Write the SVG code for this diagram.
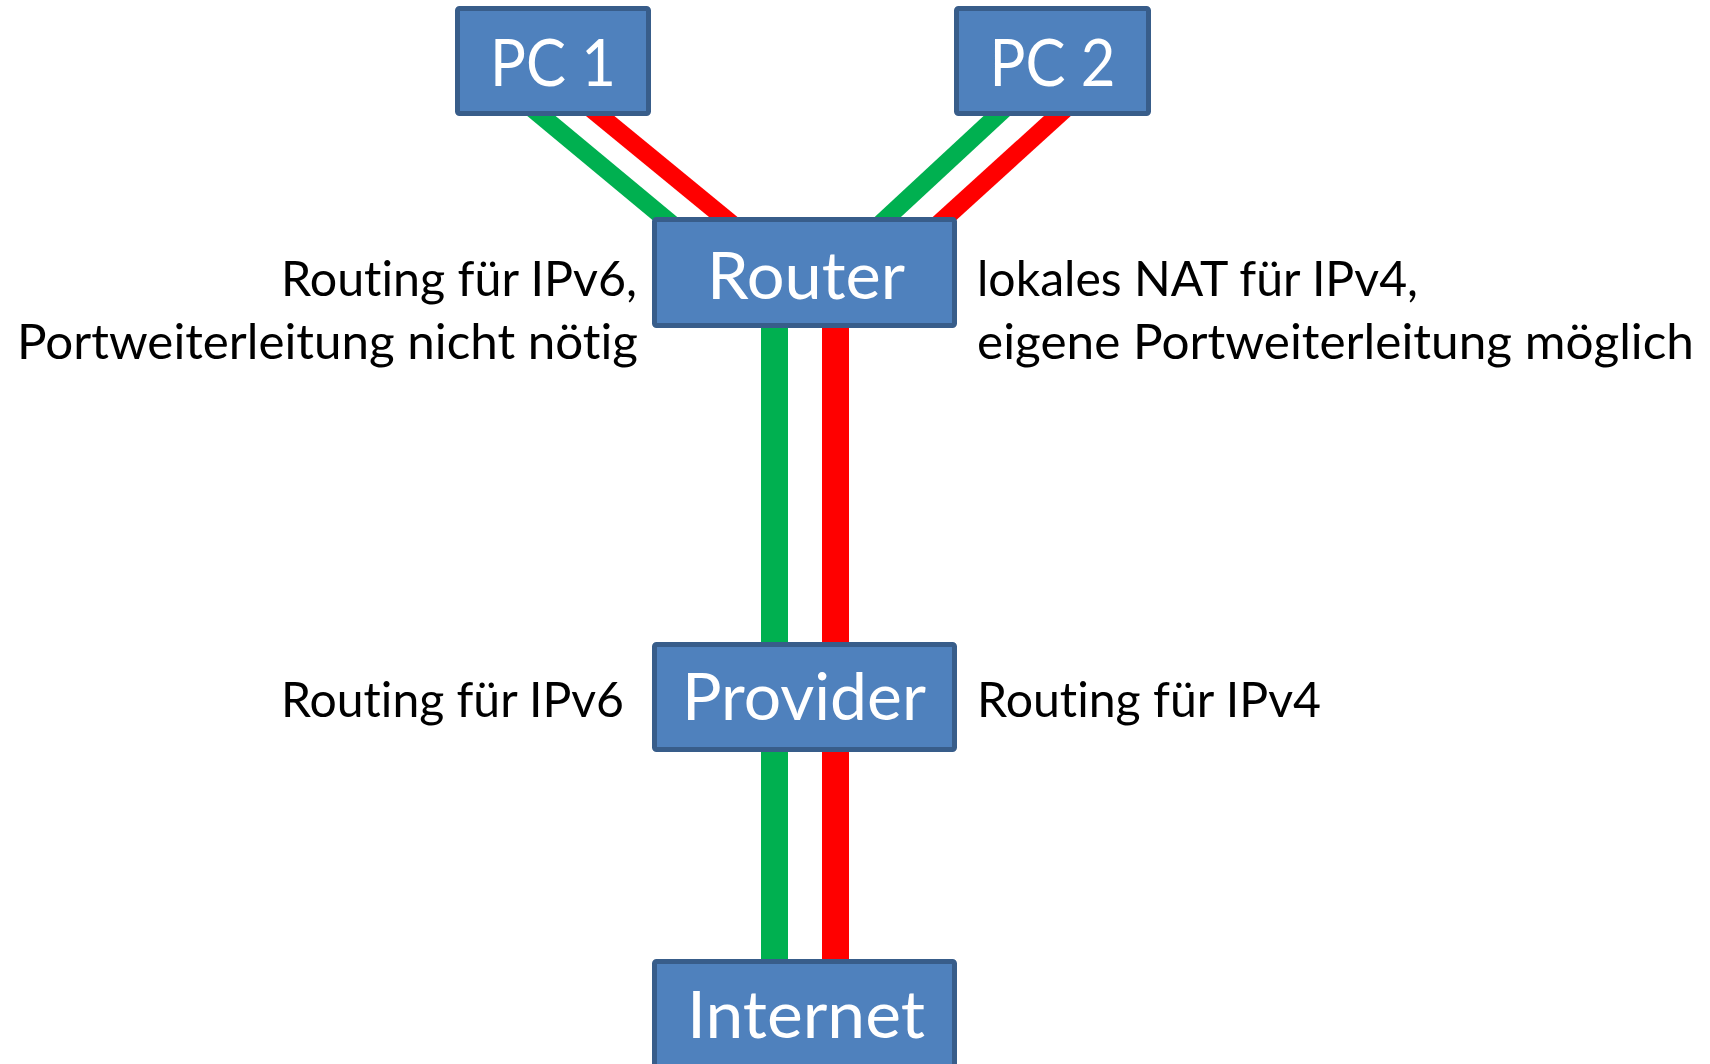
<svg xmlns="http://www.w3.org/2000/svg" width="1710" height="1064" viewBox="0 0 1710 1064">
  <style>
    text { font-variant-ligatures: none; font-feature-settings: "liga" 0, "clig" 0; }
    .box { fill: #4F81BD; stroke: #385D8A; stroke-width: 5; }
    .boxtext { font-family: Lato, "Open Sans", "Liberation Sans", sans-serif; font-size: 65px; fill: #FFFFFF; text-anchor: middle; }
    .label { font-family: Lato, "Open Sans", "Liberation Sans", sans-serif; font-size: 48px; fill: #000000; }
    .end { text-anchor: end; }
    .v6 { stroke: #00B050; fill: none; }
    .v4 { stroke: #FF0000; fill: none; }
    .diag { stroke-width: 18; }
    .vert { stroke-width: 27; }
  </style>
  <rect width="1710" height="1064" fill="#FFFFFF"/>

  <g id="connectors">
    <line class="v6 diag" x1="522.2" y1="100" x2="684.7" y2="235"/>
    <line class="v4 diag" x1="580.7" y1="100" x2="745.2" y2="235"/>
    <line class="v6 diag" x1="1013.9" y1="100" x2="868.4" y2="235"/>
    <line class="v4 diag" x1="1074.9" y1="100" x2="926.4" y2="235"/>
    <line class="v6 vert" x1="774.5" y1="310" x2="774.5" y2="660"/>
    <line class="v4 vert" x1="835.5" y1="310" x2="835.5" y2="660"/>
    <line class="v6 vert" x1="774.5" y1="735" x2="774.5" y2="975"/>
    <line class="v4 vert" x1="835.5" y1="735" x2="835.5" y2="975"/>
  </g>

  <g id="pc1">
    <rect class="box" x="457.5" y="8.5" width="191" height="105" rx="2"/>
    <text class="boxtext" x="553" y="86" textLength="126" lengthAdjust="spacingAndGlyphs">PC 1</text>
  </g>
  <g id="pc2">
    <rect class="box" x="956.5" y="8.5" width="192" height="105" rx="2"/>
    <text class="boxtext" x="1052.5" y="86" textLength="126" lengthAdjust="spacingAndGlyphs">PC 2</text>
  </g>
  <g id="router">
    <rect class="box" x="654.5" y="219.5" width="300" height="106" rx="2"/>
    <text class="boxtext" x="806" y="299" textLength="198" lengthAdjust="spacingAndGlyphs">Router</text>
  </g>
  <g id="provider">
    <rect class="box" x="654.5" y="644.5" width="300" height="105" rx="2"/>
    <text class="boxtext" x="804" y="720" textLength="244" lengthAdjust="spacingAndGlyphs">Provider</text>
  </g>
  <g id="internet">
    <rect class="box" x="654.5" y="961.5" width="300" height="115" rx="2"/>
    <text class="boxtext" x="806" y="1038" textLength="238" lengthAdjust="spacingAndGlyphs">Internet</text>
  </g>

  <g id="router-labels">
    <text class="label end" x="637" y="296" textLength="356" lengthAdjust="spacingAndGlyphs">Routing für IPv6,</text>
    <text class="label end" x="638" y="359" textLength="621" lengthAdjust="spacingAndGlyphs">Portweiterleitung nicht nötig</text>
    <text class="label" x="977" y="296" textLength="441" lengthAdjust="spacingAndGlyphs">lokales NAT für IPv4,</text>
    <text class="label" x="977" y="359" textLength="717" lengthAdjust="spacingAndGlyphs">eigene Portweiterleitung möglich</text>
  </g>
  <g id="provider-labels">
    <text class="label end" x="624" y="717" textLength="343" lengthAdjust="spacingAndGlyphs">Routing für IPv6</text>
    <text class="label" x="977" y="717" textLength="344" lengthAdjust="spacingAndGlyphs">Routing für IPv4</text>
  </g>
</svg>
